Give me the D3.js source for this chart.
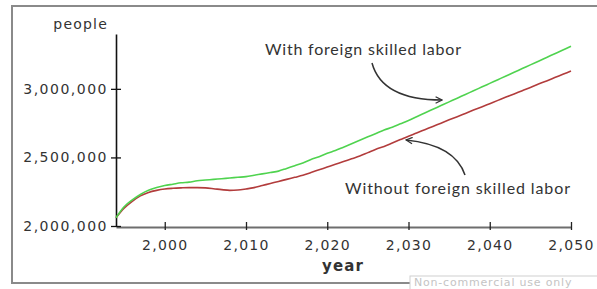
<!DOCTYPE html>
<html>
<head>
  <meta charset="utf-8">
  <title>Population</title>
  <script src="https://d3js.org/d3.v7.min.js"></script>
  <style>
    body { margin: 0; background: #fff; }
  </style>
</head>
<body>
<div id="chart"></div>
<script type="text/javascript">
  let w = 597;
  let h = 289;

  // years 1994 .. 2050, values in millions of people
  let years = d3.range(1994, 2051);
  let withForeign = [
    2.06, 2.14, 2.19, 2.23, 2.26, 2.28, 2.295, 2.305, 2.315, 2.32,
    2.33, 2.335, 2.34, 2.345, 2.35, 2.355, 2.36, 2.37, 2.38, 2.39,
    2.40, 2.42, 2.44, 2.46, 2.485, 2.505, 2.53, 2.55, 2.575, 2.60,
    2.625, 2.65, 2.675, 2.70, 2.72, 2.745, 2.77, 2.797, 2.824, 2.851,
    2.878, 2.905, 2.932, 2.959, 2.986, 3.013, 3.04, 3.067, 3.094, 3.121,
    3.148, 3.175, 3.202, 3.229, 3.256, 3.283, 3.31];
  let withoutForeign = [
    2.06, 2.13, 2.18, 2.22, 2.245, 2.26, 2.27, 2.275, 2.278, 2.28,
    2.28, 2.278, 2.272, 2.265, 2.26, 2.262, 2.27, 2.28, 2.295, 2.31,
    2.325, 2.34, 2.355, 2.37, 2.39, 2.41, 2.43, 2.45, 2.47, 2.49,
    2.51, 2.535, 2.56, 2.58, 2.605, 2.63, 2.655, 2.678, 2.702, 2.726,
    2.75, 2.774, 2.797, 2.821, 2.845, 2.868, 2.892, 2.916, 2.94, 2.963,
    2.987, 3.01, 3.035, 3.058, 3.082, 3.106, 3.13];
  let xTicks = [2000, 2010, 2020, 2030, 2040, 2050];
  let yTicks = [2000000, 2500000, 3000000];

  let xScale = d3.scaleLinear().domain([1994, 2050]).range([116, 571]);
  let yScale = d3.scaleLinear().domain([2000000, 3400000]).range([226, 34]);

  let svg = d3.select('#chart')
              .append('svg')
              .attr('width', w)
              .attr('height', h);

  // outer frame
  svg.append('rect')
     .attr('x', 12).attr('y', 6)
     .attr('width', 600).attr('height', 277)
     .attr('fill', 'none')
     .attr('stroke', '#8a8a8a')
     .attr('stroke-width', 2);

  // x axis
  let gx = svg.append('g')
     .attr('transform', 'translate(0,227)')
     .call(d3.axisBottom(xScale).tickValues(xTicks).tickFormat(d3.format(',')).tickSize(0).tickPadding(13));
  gx.select('.domain').attr('stroke', '#6e6e6e').attr('stroke-width', 2.2);
  gx.selectAll('.tick line').attr('y1', -5).attr('y2', 3).attr('stroke', '#222').attr('stroke-width', 1.3);
  gx.selectAll('.tick text')
    .attr('font-family', 'DejaVu Sans, Verdana, sans-serif')
    .attr('font-size', 14)
    .attr('letter-spacing', 1.3)
    .attr('fill', '#333');

  // y axis
  let gy = svg.append('g')
     .attr('transform', 'translate(116,0)')
     .call(d3.axisLeft(yScale).tickValues(yTicks).tickFormat(d3.format(',')).tickSize(0).tickPadding(8));
  gy.select('.domain').attr('stroke', '#111').attr('stroke-width', 1.6);
  gy.selectAll('.tick line').attr('x1', -5).attr('x2', 5).attr('stroke', '#111').attr('stroke-width', 1.3);
  gy.selectAll('.tick text')
    .attr('font-family', 'DejaVu Sans, Verdana, sans-serif')
    .attr('font-size', 14)
    .attr('letter-spacing', 1.5)
    .attr('fill', '#333');

  svg.append('text')
     .attr('x', 108).attr('y', 29)
     .attr('text-anchor', 'end')
     .attr('font-family', 'DejaVu Sans, Verdana, sans-serif')
     .attr('font-size', 14)
     .attr('letter-spacing', 1.2)
     .attr('fill', '#333')
     .text('people');

  svg.append('text')
     .attr('x', 343).attr('y', 271)
     .attr('text-anchor', 'middle')
     .attr('font-family', 'DejaVu Sans, Verdana, sans-serif')
     .attr('font-weight', 'bold')
     .attr('font-size', 15)
     .attr('letter-spacing', 1.1)
     .attr('fill', '#333')
     .text('year');

  // series
  let line = d3.line()
               .x((d, i) => xScale(years[i]))
               .y(d => yScale(d * 1000000))
               .curve(d3.curveMonotoneX);

  svg.append('path')
     .datum(withoutForeign)
     .attr('d', line)
     .attr('fill', 'none')
     .attr('stroke', '#b23c3c')
     .attr('stroke-width', 1.6);

  svg.append('path')
     .datum(withForeign)
     .attr('d', line)
     .attr('fill', 'none')
     .attr('stroke', '#4fd34f')
     .attr('stroke-width', 1.6);

  // annotations
  let defs = svg.append('defs');
  defs.append('marker')
      .attr('id', 'head')
      .attr('viewBox', '0 0 10 10')
      .attr('refX', 9).attr('refY', 5)
      .attr('markerWidth', 8).attr('markerHeight', 8)
      .attr('markerUnits', 'userSpaceOnUse')
      .attr('orient', 'auto')
      .append('path')
      .attr('d', 'M1,1 L9,5 L1,9')
      .attr('fill', 'none')
      .attr('stroke', '#333')
      .attr('stroke-width', 1.6);

  svg.append('path')
     .attr('d', 'M372,63 Q382,100 442,100')
     .attr('fill', 'none')
     .attr('stroke', '#333')
     .attr('stroke-width', 1.5)
     .attr('marker-end', 'url(#head)');

  svg.append('path')
     .attr('d', 'M465,175 Q455,145 406,140')
     .attr('fill', 'none')
     .attr('stroke', '#333')
     .attr('stroke-width', 1.5)
     .attr('marker-end', 'url(#head)');

  svg.append('text')
     .attr('x', 265).attr('y', 55)
     .attr('font-family', 'Lato, sans-serif')
     .attr('font-size', 16)
     .attr('textLength', 196)
     .attr('lengthAdjust', 'spacing')
     .attr('fill', '#333')
     .text('With foreign skilled labor');

  svg.append('text')
     .attr('x', 345).attr('y', 194)
     .attr('font-family', 'Lato, sans-serif')
     .attr('font-size', 16)
     .attr('textLength', 225)
     .attr('lengthAdjust', 'spacing')
     .attr('fill', '#333')
     .text('Without foreign skilled labor');

  // watermark box
  svg.append('rect')
     .attr('x', 410).attr('y', 276)
     .attr('width', 200).attr('height', 20)
     .attr('fill', '#fff')
     .attr('stroke', '#d0d0d0');
  svg.append('text')
     .attr('x', 414).attr('y', 286)
     .attr('font-family', 'DejaVu Sans, sans-serif')
     .attr('font-size', 11)
     .attr('letter-spacing', 0.8)
     .attr('fill', '#c4c4c4')
     .text('Non-commercial use only');
</script>
</body>
</html>
